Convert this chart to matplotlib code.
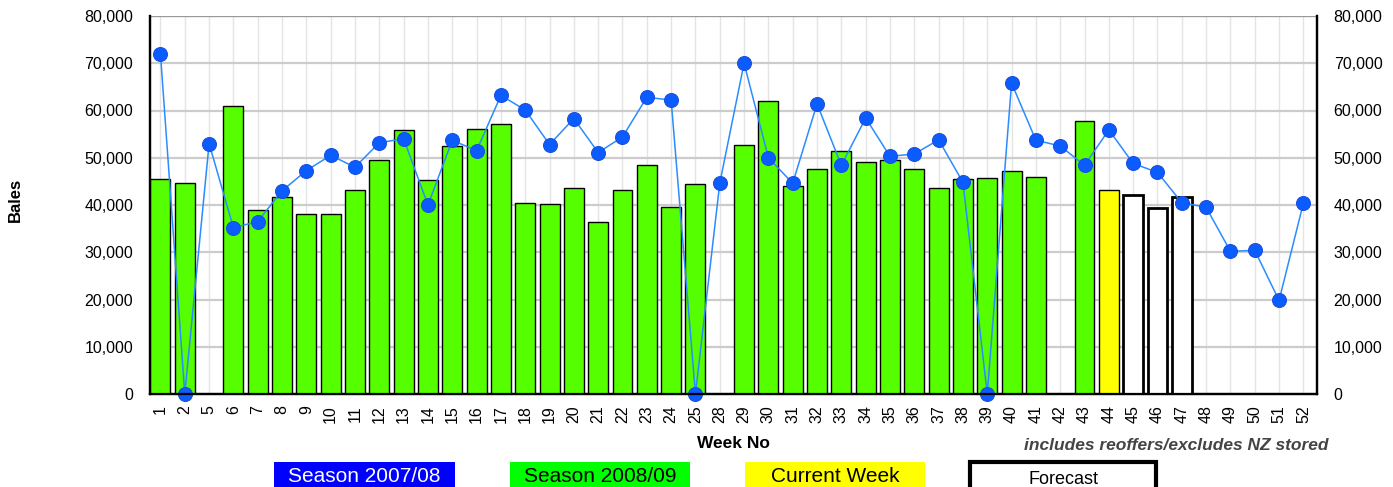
import matplotlib.pyplot as plt
from matplotlib.patches import Rectangle
from matplotlib.ticker import FuncFormatter

plt.rcParams["font.family"] = ["Liberation Sans", "DejaVu Sans"]

# 周次标签（第3、4、26、27周无数据）
weeks = ["1", "2"] + [str(w) for w in range(5, 26)] + [str(w) for w in range(28, 53)]

# 2008/09 季（柱状图），0 表示无拍卖
season_0809 = [45500, 44700, 0, 61000, 39000, 41600, 38000, 38000, 43200, 49500,
               55900, 45200, 52500, 56000, 57200, 40500, 40200, 43600, 36500, 43200,
               48400, 39500, 44500, 0, 52800, 62000, 44000, 47600, 51400, 49200,
               49600, 47600, 43500, 45400, 45800, 47200, 46000, 0, 57700]
current_week = 43200   # 第44周
forecast = [42100, 39400, 41600]  # 第45-47周

# 2007/08 季（折线）
season_0708 = [72000, 0, 53000, 35200, 36500, 43000, 47300, 50500, 48000, 53200,
               54000, 40000, 53700, 51500, 63200, 60100, 52800, 58300, 51100, 54400,
               62800, 62200, 0, 44600, 70000, 50000, 44600, 61400, 48400, 58400,
               50300, 50800, 53800, 44800, 0, 65800, 53700, 52500, 48400, 55900,
               48800, 46900, 40500, 39500, 30200, 30400, 19800, 40400]

fig = plt.figure(figsize=(13.93, 4.87), dpi=100)
ax = fig.add_axes([150 / 1393, 1 - 394 / 487, (1317 - 150) / 1393, (394 - 16) / 487])

x = list(range(len(weeks)))
w = 0.82

# 绘制柱状图
n = len(season_0809)
ax.bar(x[:n], season_0809, width=w, color="#55ff00", edgecolor="black", linewidth=1.0, zorder=3)
ax.bar(x[n], current_week, width=w, color="#ffff00", edgecolor="black", linewidth=1.0, zorder=3)
ax.bar(x[n + 1:n + 1 + len(forecast)], forecast, width=w, color="white", edgecolor="black",
       linewidth=2.0, zorder=3)

# 绘制上一季折线
ax.plot(x, season_0708, "-", color="#2a8cff", lw=1.1, marker="o", markersize=10,
        markerfacecolor="#0a5cff", markeredgecolor="#1a4fe0", markeredgewidth=0.8, zorder=5,
        clip_on=False)

# 坐标轴设置
ax.set_xlim(-0.43, len(weeks) - 0.44)
ax.set_ylim(0, 80000)
ax.set_yticks(range(0, 80001, 10000))
fmt = FuncFormatter(lambda v, p: f"{int(v):,}")
ax.yaxis.set_major_formatter(fmt)
ax.set_xticks(x)
ax.set_xticklabels(weeks, rotation=90, fontsize=11.5)
ax.tick_params(axis="y", labelsize=11.5, length=0, pad=12)
ax.tick_params(axis="x", length=0, pad=8)

ax2 = ax.twinx()
ax2.set_ylim(0, 80000)
ax2.set_yticks(range(0, 80001, 10000))
ax2.yaxis.set_major_formatter(fmt)
ax2.tick_params(axis="y", labelsize=11.5, length=0, pad=12)

# 网格
for v in range(10000, 80001, 10000):
    ax.axhline(v, color="#cccccc", lw=1.6, zorder=1)
ax.axhline(80000, color="#999999", lw=1.6, zorder=1)
for xi in x:
    ax.axvline(xi, color="#e4e4e4", lw=1.0, zorder=0)

for a in (ax, ax2):
    a.spines["top"].set_visible(False)
    for s in ("left", "right", "bottom"):
        a.spines[s].set_color("black")
        a.spines[s].set_linewidth(1.6)

ax.set_xlabel("Week No", fontsize=12.5, fontweight="bold", labelpad=9)
fig.text(15 / 1393, 1 - 200 / 487, "Bales", rotation=90, fontsize=12, fontweight="bold",
         ha="center", va="center")
fig.text(1328 / 1393, 1 - 445 / 487, "includes reoffers/excludes NZ stored", fontsize=12.5,
         fontweight="bold", fontstyle="italic", color="#444444", ha="right", va="center")

# 底部图例方块
legend_items = [
    ("Season 2007/08", 274, 455, "#0000ff", "white", "none", 0),
    ("Season 2008/09", 510, 690, "#00ff00", "black", "none", 0),
    ("Current Week", 745, 925, "#ffff00", "black", "none", 0),
    ("Forecast", 970, 1156, "white", "black", "black", 3),
]
for label, x0, x1, fc, tc, ec, lw in legend_items:
    y0 = 1 - 462 / 487
    fig.patches.append(Rectangle((x0 / 1393, -0.05), (x1 - x0) / 1393, y0 + 0.05,
                                 transform=fig.transFigure, facecolor=fc, edgecolor=ec,
                                 linewidth=lw, zorder=1))
    ty = 1 - (480 if label == "Forecast" else 476) / 487
    fig.text((x0 + x1) / 2 / 1393, ty, label, color=tc,
             fontsize=13 if label == "Forecast" else 15, ha="center", va="center", zorder=2)

fig.savefig("out.png", dpi=100)
